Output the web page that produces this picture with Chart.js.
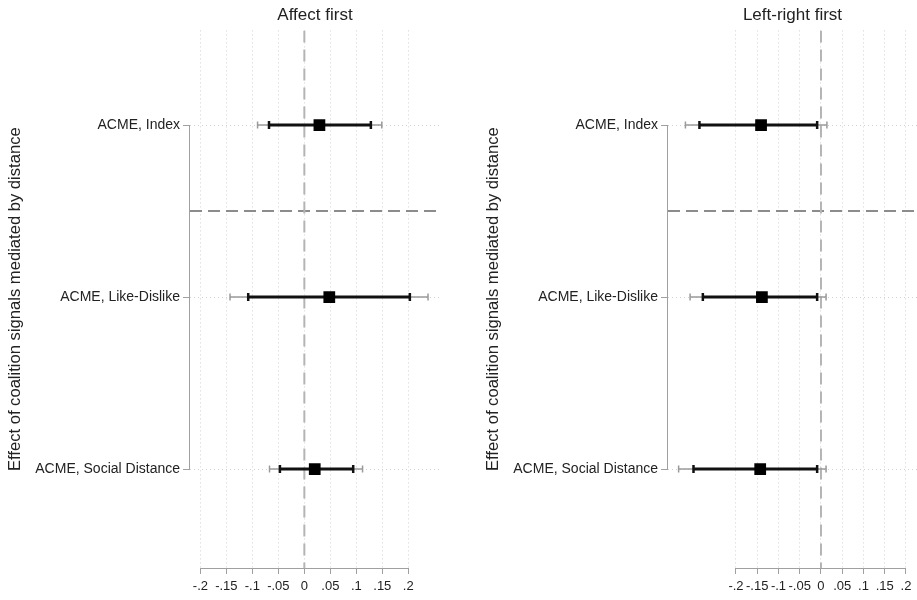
<!DOCTYPE html>
<html>
<head>
<meta charset="utf-8">
<script src="https://cdn.jsdelivr.net/npm/chart.js@4.4.1/dist/chart.umd.min.js"></script>
<style>
  html, body { margin: 0; padding: 0; background: #fff; }
  body { width: 917px; height: 600px; position: relative; overflow: hidden; }
  canvas { position: absolute; top: 0; }
  #affect { left: 0; }
  #leftright { left: 478px; }
</style>
</head>
<body>
<canvas id="affect" width="458" height="600"></canvas>
<canvas id="leftright" width="439" height="600"></canvas>
<script>
// Mediated effects (ACME) with 90% and 95% confidence intervals
const categories = ['ACME, Index', 'ACME, Like-Dislike', 'ACME, Social Distance'];

const xTicks = [-0.2, -0.15, -0.1, -0.05, 0, 0.05, 0.1, 0.15, 0.2];
const xTickLabels = ['-.2', '-.15', '-.1', '-.05', '0', '.05', '.1', '.15', '.2'];

// Affect first
const affectEst  = [0.029, 0.048, 0.020];
const affectLo90 = [-0.068, -0.108, -0.047];
const affectHi90 = [0.128, 0.203, 0.094];
const affectLo95 = [-0.090, -0.143, -0.067];
const affectHi95 = [0.149, 0.238, 0.112];

// Left-right first
const lrEst  = [-0.141, -0.139, -0.143];
const lrLo90 = [-0.286, -0.278, -0.300];
const lrHi90 = [-0.009, -0.009, -0.009];
const lrLo95 = [-0.319, -0.308, -0.335];
const lrHi95 = [0.014, 0.012, 0.012];

const Y_MIN = 0.45, Y_MAX = 3.575;
const FONT = '"Liberation Sans", Arial, sans-serif';
const TEXT = '#222';

// Axis lines that only span the labelled range
const axisLines = {
  id: 'axisLines',
  beforeDatasetsDraw(chart) {
    const { ctx, chartArea, scales } = chart;
    ctx.save();
    ctx.strokeStyle = '#a0a0a0';
    ctx.lineWidth = 1;
    ctx.beginPath();
    ctx.moveTo(scales.x.getPixelForValue(xTicks[0]), chartArea.bottom + 0.5);
    ctx.lineTo(scales.x.getPixelForValue(xTicks[xTicks.length - 1]), chartArea.bottom + 0.5);
    ctx.moveTo(chartArea.left - 0.5, scales.y.getPixelForValue(1));
    ctx.lineTo(chartArea.left - 0.5, scales.y.getPixelForValue(categories.length));
    ctx.stroke();
    ctx.restore();
  }
};

function makePanel(id, title, est, lo90, hi90, lo95, hi95, xMin, xMax, padRight) {
  const datasets = [];
  // reference lines
  datasets.push({
    data: [{ x: 0, y: Y_MIN }, { x: 0, y: Y_MAX }],
    showLine: true, borderColor: '#b4b4b4', borderWidth: 2, borderDash: [12, 7],
    pointRadius: 0, order: 20
  });
  datasets.push({
    data: [{ x: xMin, y: 1.5 }, { x: xMax, y: 1.5 }],
    showLine: true, borderColor: '#8c8c8c', borderWidth: 2, borderDash: [12, 6],
    pointRadius: 0, order: 20
  });
  categories.forEach((c, i) => {
    const y = i + 1;
    // 95% interval
    datasets.push({
      data: [{ x: lo95[i], y }, { x: hi95[i], y }],
      showLine: true, borderColor: '#9a9a9a', borderWidth: 1.5,
      pointStyle: 'line', rotation: 90, pointRadius: 3.5,
      pointBorderColor: '#9a9a9a', pointBorderWidth: 1.5, order: 6
    });
    // 90% interval
    datasets.push({
      data: [{ x: lo90[i], y }, { x: hi90[i], y }],
      showLine: true, borderColor: '#111', borderWidth: 3,
      pointStyle: 'line', rotation: 90, pointRadius: 4,
      pointBorderColor: '#111', pointBorderWidth: 2.5, order: 4
    });
  });
  // point estimates
  datasets.push({
    data: est.map((v, i) => ({ x: v, y: i + 1 })),
    showLine: false, pointStyle: 'rect', pointRadius: 8.3,
    backgroundColor: '#000', borderColor: '#000', pointBorderWidth: 0, order: 1
  });

  return new Chart(document.getElementById(id), {
    type: 'scatter',
    data: { datasets },
    plugins: [axisLines],
    options: {
      responsive: false,
      animation: false,
      devicePixelRatio: 1,
      layout: { autoPadding: false, padding: { left: 0, right: padRight, top: 0, bottom: 0 } },
      plugins: {
        legend: { display: false },
        tooltip: { enabled: false },
        title: {
          display: true, text: title, fullSize: false,
          color: TEXT, font: { family: FONT, size: 17, weight: 'normal' },
          padding: { top: 5, bottom: 5 }
        }
      },
      scales: {
        x: {
          type: 'linear', min: xMin, max: xMax,
          afterBuildTicks: s => { s.ticks = xTicks.map(v => ({ value: v })); },
          afterFit: s => { s.height = 32; s.paddingLeft = 0; s.paddingRight = 0; },
          ticks: {
            autoSkip: false, maxRotation: 0, padding: 5,
            color: TEXT, font: { family: FONT, size: 13 },
            callback: (v, i) => xTickLabels[i]
          },
          grid: {
            color: '#d2d2d2', lineWidth: 1, drawTicks: true, tickLength: 6,
            tickColor: '#a0a0a0', tickWidth: 1, tickBorderDash: []
          },
          border: { display: false, dash: [1, 3] }
        },
        y: {
          type: 'linear', reverse: true, min: Y_MIN, max: Y_MAX,
          afterBuildTicks: s => { s.ticks = categories.map((c, i) => ({ value: i + 1 })); },
          afterFit: s => { s.width = 190; s.paddingTop = 0; s.paddingBottom = 0; },
          ticks: {
            autoSkip: false, padding: 3,
            color: TEXT, font: { family: FONT, size: 14 },
            callback: v => categories[Math.round(v) - 1]
          },
          grid: {
            color: '#d2d2d2', lineWidth: 1, drawTicks: true, tickLength: 7,
            tickColor: '#a0a0a0', tickWidth: 1, tickBorderDash: []
          },
          border: { display: false, dash: [1, 3] },
          title: {
            display: true, text: 'Effect of coalition signals mediated by distance',
            color: TEXT, font: { family: FONT, size: 16.6, weight: 'normal' },
            padding: { top: 5, bottom: 0 }
          }
        }
      }
    }
  });
}

makePanel('affect', 'Affect first', affectEst, affectLo90, affectHi90, affectLo95, affectHi95, -0.22, 0.261, 18);
makePanel('leftright', 'Left-right first', lrEst, lrLo90, lrHi90, lrLo95, lrHi95, -0.36, 0.226, 0);
</script>
</body>
</html>
